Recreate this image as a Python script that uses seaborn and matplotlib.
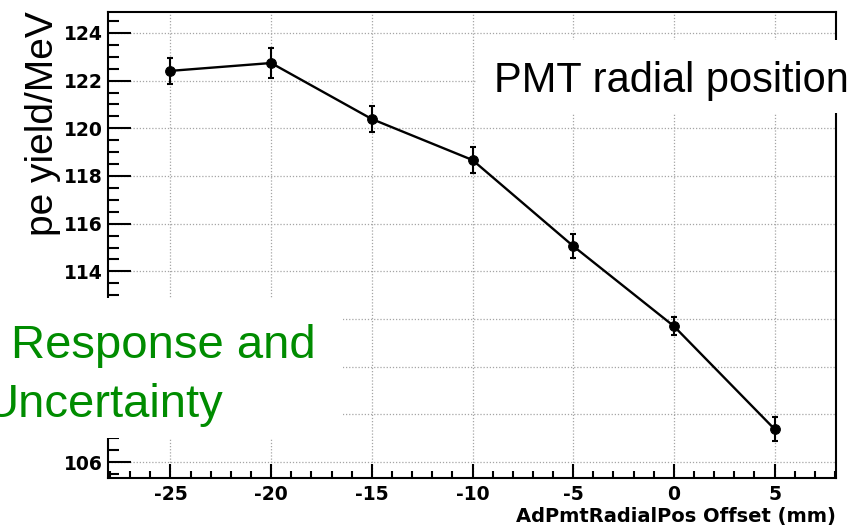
import matplotlib
matplotlib.use("Agg")
import matplotlib.pyplot as plt
import seaborn as sns
import pandas as pd
from matplotlib.ticker import MultipleLocator
from matplotlib.patches import Rectangle

# ---- data ----
offsets = [-25, -20, -15, -10, -5, 0, 5]
pe_yield = [122.41, 122.74, 120.39, 118.67, 115.06, 111.70, 107.38]
pe_err = [0.54, 0.61, 0.56, 0.55, 0.52, 0.37, 0.49]
x_ticks = [-25, -20, -15, -10, -5, 0, 5]
y_ticks = [106, 108, 110, 112, 114, 116, 118, 120, 122, 124]
# labels 108-112 are hidden behind the annotation box in the reference
y_tick_labels = ["106", "", "", "", "114", "116", "118", "120", "122", "124"]
x_label = "AdPmtRadialPos Offset (mm)"
y_label = "pe yield/MeV"
title_text = "PMT radial position"
green_line1 = "Response and"
green_line2 = "Uncertainty"

sns.set_style("ticks")
plt.rcParams["font.family"] = ["Liberation Sans", "DejaVu Sans"]
plt.rcParams.update({"text.color": "black", "axes.labelcolor": "black",
                     "xtick.color": "black", "ytick.color": "black",
                     "axes.edgecolor": "black"})

W, H = 860, 526
fig = plt.figure(figsize=(W / 100, H / 100), dpi=100)
fig.patch.set_facecolor("white")
ax = fig.add_axes([108 / W, 1 - 478 / H, (836 - 108) / W, (478 - 12) / H])

df = pd.DataFrame({"offset": offsets, "pe": pe_yield})
sns.lineplot(data=df, x="offset", y="pe", ax=ax, color="black", lw=1.7,
             marker="o", markersize=7, markeredgecolor="black", zorder=3)
ax.errorbar(offsets, pe_yield, yerr=pe_err, fmt="none", ecolor="black",
            elinewidth=1.5, capsize=2.2, capthick=1.5, zorder=3)

ax.set_xlim(-28.1, 8.05)
ax.set_ylim(105.33, 124.88)

tick_font = dict(fontfamily="DejaVu Sans", fontweight="bold", fontsize=13.5,
                 color="black")
ax.set_xticks(x_ticks, labels=[str(v) for v in x_ticks], **tick_font)
ax.set_yticks(y_ticks, labels=y_tick_labels, **tick_font)
ax.xaxis.set_minor_locator(MultipleLocator(1))
ax.yaxis.set_minor_locator(MultipleLocator(0.5))
ax.tick_params(axis="both", which="both", direction="in", top=False,
               right=False, width=1.5, color="black", labelcolor="black")
ax.tick_params(axis="y", which="major", length=16.5, pad=3.6)
ax.tick_params(axis="y", which="minor", length=8)
ax.tick_params(axis="x", which="major", length=10, pad=5)
ax.tick_params(axis="x", which="minor", length=5)

ax.grid(True, which="major", linestyle=(0, (1, 1.5)), color="#a5a5a5", lw=0.9)
ax.set_axisbelow(True)
for sp in ax.spines.values():
    sp.set_visible(True)
    sp.set_linewidth(1.5)
    sp.set_color("black")

ax.set_xlabel(x_label, loc="right", fontfamily="DejaVu Sans",
              fontweight="bold", fontsize=14, color="black")
ax.xaxis.set_label_coords(1.0, -0.062)
ax.set_ylabel("")

fig.text(43 / W, 1 - 124 / H, y_label, rotation=90, ha="center",
         va="center", fontsize=28, color="black")

# white overlay boxes behind the annotation texts
fig.add_artist(Rectangle((476 / W, 1 - 113 / H), (W - 476) / W, 73 / H,
                         transform=fig.transFigure, facecolor="white",
                         edgecolor="none", zorder=5))
fig.add_artist(Rectangle((0, 1 - 438 / H), 343 / W, 140 / H,
                         transform=fig.transFigure, facecolor="white",
                         edgecolor="none", zorder=5))

fig.text(494 / W, 1 - 92 / H, title_text, fontsize=30, ha="left",
         va="baseline", zorder=6, color="black")
green = "#008c00"
fig.text(11 / W, 1 - 358 / H, green_line1, color=green, fontsize=34,
         ha="left", va="baseline", zorder=6)
fig.text(223 / W, 1 - 417 / H, green_line2, color=green, fontsize=34,
         ha="right", va="baseline", zorder=6)

fig.savefig("out.png", dpi=100)
